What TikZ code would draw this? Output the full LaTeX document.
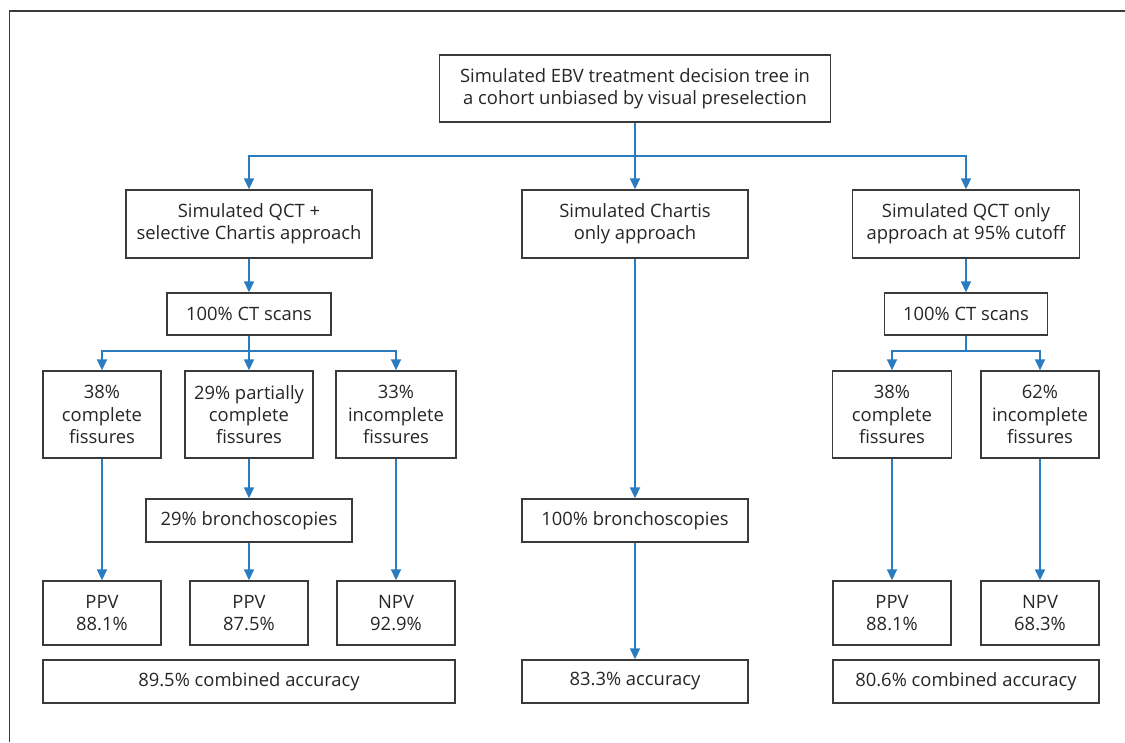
\documentclass[tikz,border=0pt]{standalone}
\usepackage{fontspec}
\setmainfont{Open Sans}
\usepackage{tikz}
\usetikzlibrary{arrows.meta,positioning,calc}
\definecolor{ink}{HTML}{262626}
\definecolor{edge}{HTML}{3A3A3A}
\definecolor{flow}{HTML}{2B7BC1}
\tikzset{
  box/.style={draw=edge,line width=1.4pt,fill=white,align=center,text=ink,
    font=\fontsize{18.4}{22.4}\selectfont,inner sep=1pt},
  arr/.style={-{Triangle[length=11pt,width=10pt]},line width=1.8pt,draw=flow},
  wire/.style={line width=1.8pt,draw=flow},
  frame/.style={draw=edge,line width=1.3pt},
}
\begin{document}
\begin{tikzpicture}[x=1pt,y=-1pt]
  \useasboundingbox (0,0) rectangle (1125,742);
  \draw[frame] (9.5,742) -- (9.5,11) -- (1125,11);

  % top and the three approaches
  \node[box,minimum width=391pt,minimum height=67pt] (root) at (635,88.5)
    {Simulated EBV treatment decision tree in\\a cohort unbiased by visual preselection};
  \node[box,minimum width=246pt,minimum height=68pt] (qctsel) at (249,224)
    {Simulated QCT +\\selective Chartis approach};
  \node[box,minimum width=226pt,minimum height=68pt] (chartis) at (635,224)
    {Simulated Chartis\\only approach};
  \node[box,minimum width=227pt,minimum height=68pt] (qctonly) at (966,224)
    {Simulated QCT only\\approach at 95\% cutoff};

  % CT scans
  \foreach \s/\x/\w in {L/249/164,R/966/163}{
    \node[box,minimum width=\w pt,minimum height=42pt] (ct\s) at (\x,314) {100\% CT scans};
  }

  % fissure classes
  \node[box,minimum width=118pt,minimum height=87pt] (compL) at (102,414.5) {38\%\\complete\\fissures};
  \node[box,minimum width=128pt,minimum height=87pt] (partL) at (249,414.5) {29\% partially\\complete\\fissures};
  \node[box,minimum width=120pt,minimum height=87pt] (incL) at (396,414.5) {33\%\\incomplete\\fissures};
  \node[box,minimum width=119pt,minimum height=87pt] (compR) at (892,414.5) {38\%\\complete\\fissures};
  \node[box,minimum width=118pt,minimum height=87pt] (incR) at (1040,414.5) {62\%\\incomplete\\fissures};

  % bronchoscopies
  \node[box,minimum width=206pt,minimum height=43pt] (bronL) at (249,520.5) {29\% bronchoscopies};
  \node[box,minimum width=226pt,minimum height=43pt] (bronM) at (635,520.5) {100\% bronchoscopies};

  % predictive values
  \foreach \n/\x/\t in {ppvL/102/{PPV\\88.1\%},ppvM/249/{PPV\\87.5\%},npvL/396/{NPV\\92.9\%},
                        ppvR/892/{PPV\\88.1\%},npvR/1040/{NPV\\68.3\%}}{
    \node[box,minimum width=118pt,minimum height=64pt] (\n) at (\x,613) {\t};
  }

  % accuracy
  \node[box,minimum width=412pt,minimum height=43pt] (accL) at (249,681.5) {89.5\% combined accuracy};
  \node[box,minimum width=226pt,minimum height=43pt] (accM) at (635,681.5) {83.3\% accuracy};
  \node[box,minimum width=266pt,minimum height=43pt] (accR) at (966,681.5) {80.6\% combined accuracy};

  % connectors
  \coordinate (j0) at (635,156);
  \draw[wire] (root) -- (j0);
  \draw[arr] (j0) -| (qctsel);
  \draw[arr] (j0) -| (qctonly);
  \draw[arr] (root) -- (chartis);
  \draw[arr] (qctsel) -- (ctL);
  \draw[arr] (qctonly) -- (ctR);

  \coordinate (jL) at (249,351);
  \coordinate (jR) at (966,351);
  \draw[wire] (ctL) -- (jL);
  \draw[arr] (jL) -| (compL);
  \draw[arr] (jL) -| (incL);
  \draw[arr] (ctL) -- (partL);
  \draw[wire] (ctR) -- (jR);
  \draw[arr] (jR) -| (compR);
  \draw[arr] (jR) -| (incR);

  \draw[arr] (compL) -- (ppvL);
  \draw[arr] (partL) -- (bronL);
  \draw[arr] (bronL) -- (ppvM);
  \draw[arr] (incL) -- (npvL);
  \draw[arr] (chartis) -- (bronM);
  \draw[arr] (bronM) -- (accM);
  \draw[arr] (compR) -- (ppvR);
  \draw[arr] (incR) -- (npvR);
\end{tikzpicture}
\end{document}
